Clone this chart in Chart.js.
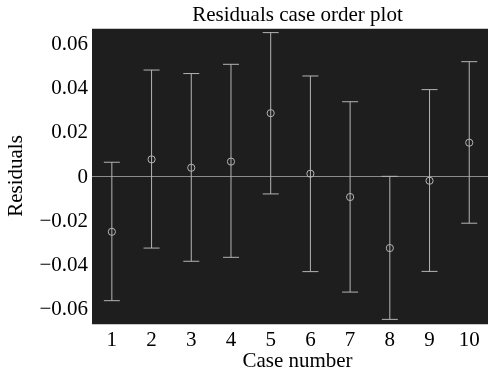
<!DOCTYPE html>
<html><head><meta charset="utf-8">
<style>
html,body{margin:0;padding:0;background:#fff;overflow:hidden;width:488px;height:372px}
#wrap{width:512px;height:372px}
</style>
<script src="https://cdn.jsdelivr.net/npm/chart.js@4/dist/chart.umd.min.js"></script>
</head><body><div id="wrap"><canvas id="c" width="512" height="372"></canvas></div>
<script>
const caseNumbers = [1, 2, 3, 4, 5, 6, 7, 8, 9, 10];
const residuals   = [-0.0249, 0.0080, 0.0042, 0.0070, 0.0290, 0.0015, -0.0091, -0.0323, -0.0017, 0.0156];
const lowerBounds = [-0.0562, -0.0323, -0.0383, -0.0365, -0.0077, -0.0430, -0.0523, -0.0647, -0.0429, -0.0210];
const upperBounds = [0.0067, 0.0486, 0.0470, 0.0512, 0.0656, 0.0459, 0.0342, 0.0003, 0.0397, 0.0524];
const yTicks = [-0.06, -0.04, -0.02, 0, 0.02, 0.04, 0.06];
const xTicks = caseNumbers;
const titleText = 'Residuals case order plot';
const xLabel = 'Case number';
const yLabel = 'Residuals';

const FONT = '"Liberation Serif", "Times New Roman", serif';
const BAR = '#b4b4b4';

const datasets = [];
caseNumbers.forEach((c, i) => {
  datasets.push({
    type: 'line',
    data: [{x: c, y: lowerBounds[i]}, {x: c, y: upperBounds[i]}],
    borderColor: BAR, borderWidth: 1,
    pointStyle: 'line', pointRadius: 8, pointHoverRadius: 8,
    pointBorderColor: BAR, pointBorderWidth: 1,
    showLine: true, fill: false, tension: 0
  });
});
datasets.push({
  type: 'scatter',
  data: caseNumbers.map((c, i) => ({x: c, y: residuals[i]})),
  pointStyle: 'circle', pointRadius: 3.6, pointHoverRadius: 3.6,
  pointBackgroundColor: 'rgba(0,0,0,0)', pointBorderColor: BAR, pointBorderWidth: 1,
  showLine: false
});

const bgPlugin = {
  id: 'bg',
  beforeDraw(chart) {
    const a = chart.chartArea, ctx = chart.ctx;
    ctx.save();
    ctx.fillStyle = '#1e1e1e';
    ctx.fillRect(a.left, a.top, a.right - a.left, a.bottom - a.top);
    ctx.restore();
  },
  afterDraw(chart) {
    const a = chart.chartArea, ctx = chart.ctx;
    ctx.save();
    ctx.strokeStyle = '#c8c8c8';
    ctx.lineWidth = 1;
    ctx.beginPath();
    ctx.moveTo(a.left, a.top + 0.5); ctx.lineTo(a.right, a.top + 0.5);
    ctx.stroke();
    ctx.fillStyle = '#000';
    ctx.font = '21px ' + FONT;
    ctx.textAlign = 'center';
    ctx.textBaseline = 'middle';
    ctx.fillText(titleText, (a.left + a.right) / 2, 15);
    ctx.restore();
  }
};

new Chart(document.getElementById('c'), {
  type: 'scatter',
  data: { datasets },
  options: {
    responsive: false, animation: false, devicePixelRatio: 1,
    layout: { padding: { top: 28, right: 6, left: 0, bottom: 0 } },
    plugins: { legend: { display: false }, tooltip: { enabled: false }, title: { display: false } },
    scales: {
      x: {
        type: 'linear', min: 0.5, max: 10.85,
        afterBuildTicks: s => { s.ticks = xTicks.map(v => ({value: v})); },
        afterFit: s => { s.height = 48; },
        grid: { display: false, drawTicks: false },
        border: { display: true, color: '#c8c8c8', width: 1 },
        ticks: { color: '#000', font: { family: FONT, size: 21 }, padding: 4, maxRotation: 0, autoSkip: false },
        title: { display: true, text: xLabel, color: '#000', font: { family: FONT, size: 21, lineHeight: 1 }, padding: 0 }
      },
      y: {
        type: 'linear', min: -0.0668, max: 0.0677,
        afterBuildTicks: s => { s.ticks = yTicks.map(v => ({value: v})); },
        afterFit: s => { s.width = 92; },
        grid: { drawTicks: false, color: ctx => (ctx.tick && ctx.tick.value === 0) ? '#8c8c8c' : 'rgba(0,0,0,0)', lineWidth: 1 },
        border: { display: false },
        ticks: { color: '#000', font: { family: FONT, size: 21 }, padding: 4, autoSkip: false,
          callback: v => v === 0 ? '0' : (v < 0 ? '\u2212' : '') + Math.abs(v).toFixed(2) },
        title: { display: true, text: yLabel, color: '#000', font: { family: FONT, size: 21, lineHeight: 1 }, padding: { top: 6, bottom: 0 } }
      }
    }
  },
  plugins: [bgPlugin]
});
</script>
</body></html>
